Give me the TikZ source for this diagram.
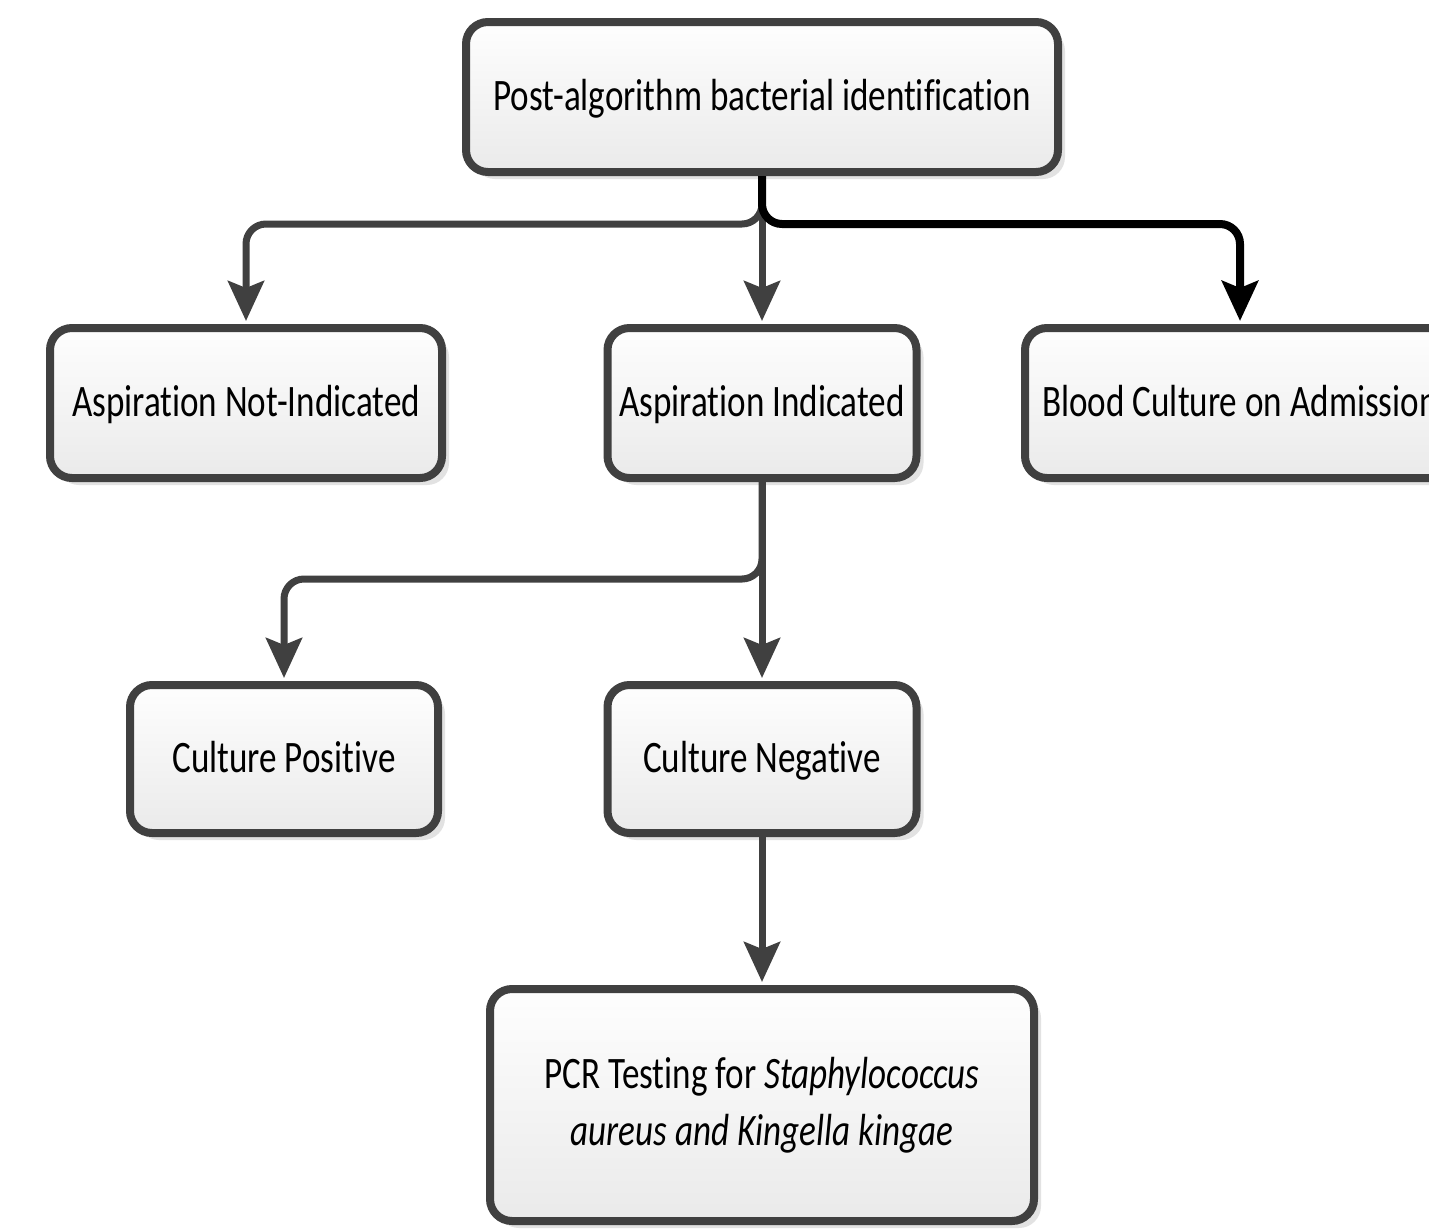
\documentclass[tikz,border=0pt]{standalone}
\usepackage{fontspec}
\setmainfont{Carlito}[FakeStretch=0.78, Ligatures=CommonOff]
\usetikzlibrary{arrows.meta,shadows}
\definecolor{edgegray}{HTML}{404040}
\definecolor{shadowgray}{HTML}{E2E2E2}
\definecolor{filltop}{HTML}{FEFEFE}
\definecolor{fillbot}{HTML}{EAEAEA}
\begin{document}
\begin{tikzpicture}[x=1pt,y=-1pt,
  box/.style={draw=edgegray, line width=8pt, rounded corners=22pt,
    top color=filltop, bottom color=fillbot, align=center,
    font=\fontsize{45}{57}\selectfont, inner sep=0pt,
    drop shadow={shadow xshift=7pt, shadow yshift=-7pt, fill=shadowgray, opacity=1}},
  oneline/.style={text height=29pt, text depth=3pt},
  conn/.style={draw=edgegray, line width=7pt, rounded corners=20pt,
    -{Stealth[length=40pt, width=36pt, inset=7pt]}, shorten >=3pt},
  connb/.style={draw=black, line width=8pt, rounded corners=20pt,
    -{Stealth[length=40pt, width=36pt, inset=7pt]}, shorten >=3pt}]
\useasboundingbox (0,0) rectangle (1429,1229);
\fill[white] (0,0) rectangle (1429,1229);

\node[box, oneline, minimum width=592pt, minimum height=150pt] (top) at (762,97) {Post-algorithm bacterial identification};
\node[box, oneline, minimum width=392pt, minimum height=150pt] (ani) at (246,403) {Aspiration Not-Indicated};
\node[box, oneline, minimum width=309pt, minimum height=150pt] (ai) at (762,403) {Aspiration Indicated};
\node[box, oneline, minimum width=430pt, minimum height=150pt] (bca) at (1240,403) {Blood Culture on Admission};
\node[box, oneline, minimum width=308pt, minimum height=148pt] (cp) at (284,759) {Culture Positive};
\node[box, oneline, minimum width=309pt, minimum height=148pt] (cn) at (762,759) {Culture Negative};
\node[box, minimum width=544pt, minimum height=232pt] (pcr) at (762,1105) {\raisebox{-4pt}{PCR Testing for \textit{Staphylococcus}}\\\raisebox{-4pt}{\textit{aureus and Kingella kingae}}};

\coordinate (j1) at (762,224);
\coordinate (j2) at (762,579);

\draw[conn] (top.south) -- (j1) -| (ani.north);
\draw[conn] (top.south) -- (ai.north);
\draw[connb] (top.south) -- (j1) -| (bca.north);
\draw[conn] (ai.south) -- (j2) -| (cp.north);
\draw[conn] (ai.south) -- (cn.north);
\draw[conn] (cn.south) -- (pcr.north);
\end{tikzpicture}
\end{document}
